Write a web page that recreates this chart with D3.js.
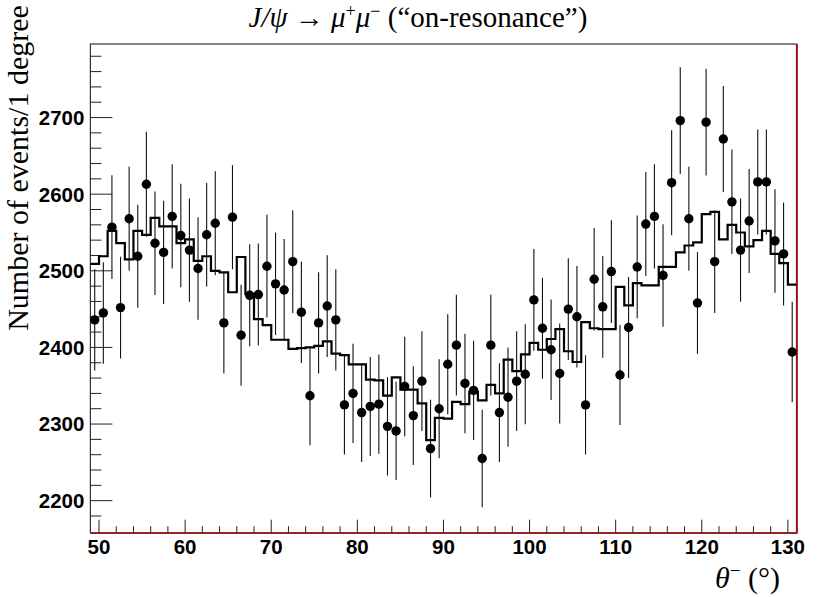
<!DOCTYPE html>
<html>
<head>
<meta charset="utf-8">
<script src="https://cdn.jsdelivr.net/npm/d3@7"></script>
<style>
  body { margin: 0; background: #fff; }
  svg { display: block; }
</style>
</head>
<body>
<div id="chart"></div>
<script>
// bin centres, 1 degree wide from 49 to 131
const bins = d3.range(49.5, 131, 1);

// measured counts (points)
const dataCounts = [
  2436, 2445, 2557, 2452, 2568, 2519, 2613, 2536, 2524, 2571,
  2546, 2527, 2503, 2547, 2562, 2432, 2570, 2416, 2468, 2469,
  2506, 2483, 2475, 2512, 2446, 2337, 2432, 2454, 2436, 2325,
  2340, 2315, 2323, 2326, 2297, 2291, 2349, 2311, 2356, 2268,
  2320, 2378, 2403, 2353, 2344, 2255, 2403, 2315, 2335, 2356,
  2365, 2462, 2425, 2397, 2366, 2450, 2440, 2325, 2489, 2453,
  2499, 2364, 2426, 2505, 2561, 2571, 2494, 2615, 2696, 2568,
  2458, 2694, 2512, 2672, 2590, 2527, 2565, 2616, 2616, 2539,
  2522, 2394
];

// expectation (histogram)
const mcCounts = [
  2509, 2519, 2552, 2536, 2515, 2552, 2547, 2569, 2558, 2558,
  2536, 2541, 2513, 2519, 2500, 2498, 2472, 2518, 2470, 2437,
  2429, 2410, 2410, 2398, 2399, 2400, 2402, 2408, 2392, 2390,
  2378, 2378, 2358, 2357, 2337, 2361, 2345, 2345, 2327, 2279,
  2308, 2307, 2329, 2326, 2342, 2331, 2351, 2340, 2384, 2369,
  2391, 2406, 2397, 2411, 2424, 2395, 2381, 2433, 2425, 2424,
  2424, 2479, 2455, 2484, 2481, 2481, 2505, 2505, 2524, 2533,
  2537, 2574, 2577, 2541, 2560, 2550, 2532, 2540, 2552, 2522,
  2510, 2482
];

// error bars in the picture are ~1.34 x sqrt(N) (weighted events)
const errScale = 1.34;

const xTicks = [50, 60, 70, 80, 90, 100, 110, 120, 130];
const yTicks = [2200, 2300, 2400, 2500, 2600, 2700];

const width = 830, height = 597;
const frame = { left: 90.4, right: 796.5, top: 44, bottom: 532.7 };

const svg = d3.select('#chart').append('svg')
  .attr('width', width)
  .attr('height', height);

const x = d3.scaleLinear().domain([49, 131]).range([frame.left, frame.right]);
const y = d3.scaleLinear().domain([2158.2, 2796]).range([frame.bottom, frame.top]);

// frame
svg.append('rect')
  .attr('x', frame.left).attr('y', frame.top)
  .attr('width', frame.right - frame.left)
  .attr('height', frame.bottom - frame.top)
  .attr('fill', 'none')
  .attr('stroke', '#333')
  .attr('stroke-width', 1.2);

const tickFont = 'Liberation Sans, Arial, sans-serif';

// y axis ticks (inward), minor every 20
const yMinor = d3.range(2180, 2790, 20);
const yAxis = svg.append('g').attr('transform', `translate(${frame.left},0)`);
yAxis.selectAll('line')
  .data(yMinor)
  .enter()
  .append('line')
  .attr('x1', 0)
  .attr('x2', (d) => (d % 100 === 0 ? 22 : 11))
  .attr('y1', (d) => y(d))
  .attr('y2', (d) => y(d))
  .attr('stroke', '#222')
  .attr('stroke-width', 1);
yAxis.selectAll('text')
  .data(yTicks)
  .enter()
  .append('text')
  .attr('x', -6)
  .attr('y', (d) => y(d))
  .attr('dy', '0.36em')
  .attr('text-anchor', 'end')
  .style('font-family', tickFont)
  .style('font-weight', 'bold')
  .style('font-size', '20.5px')
  .text((d) => d);

// x axis ticks, minor every 2
const xMinor = d3.range(50, 131, 2);
const xAxis = svg.append('g').attr('transform', `translate(0,${frame.bottom})`);
xAxis.selectAll('line')
  .data(xMinor)
  .enter()
  .append('line')
  .attr('x1', (d) => x(d))
  .attr('x2', (d) => x(d))
  .attr('y1', 0)
  .attr('y2', (d) => (d % 10 === 0 ? -13 : -6.5))
  .attr('stroke', '#222')
  .attr('stroke-width', 1);
xAxis.selectAll('text')
  .data(xTicks)
  .enter()
  .append('text')
  .attr('x', (d) => x(d))
  .attr('y', 21.5)
  .attr('text-anchor', 'middle')
  .style('font-family', tickFont)
  .style('font-weight', 'bold')
  .style('font-size', '20.5px')
  .text((d) => d);

// red lines on bottom and right edges
svg.append('line')
  .attr('x1', frame.left).attr('x2', frame.right + 0.5)
  .attr('y1', frame.bottom + 0.8).attr('y2', frame.bottom + 0.8)
  .attr('stroke', '#e00000').attr('stroke-width', 1.2);
svg.append('line')
  .attr('x1', frame.right + 0.8).attr('x2', frame.right + 0.8)
  .attr('y1', frame.top).attr('y2', frame.bottom + 0.8)
  .attr('stroke', '#e00000').attr('stroke-width', 1.2);

// histogram step line
const stepPts = [];
bins.forEach((b, i) => {
  stepPts.push([x(b - 0.5), y(mcCounts[i])]);
  stepPts.push([x(b + 0.5), y(mcCounts[i])]);
});
svg.append('path')
  .attr('d', d3.line()(stepPts))
  .attr('fill', 'none')
  .attr('stroke', '#000')
  .attr('stroke-width', 2.2);

// data points with errors
const pts = bins.map((b, i) => ({ x: b, v: dataCounts[i], e: errScale * Math.sqrt(dataCounts[i]) }));
svg.selectAll('line.err')
  .data(pts)
  .enter()
  .append('line')
  .attr('class', 'err')
  .attr('x1', (d) => x(d.x))
  .attr('x2', (d) => x(d.x))
  .attr('y1', (d) => y(d.v - d.e))
  .attr('y2', (d) => y(d.v + d.e))
  .attr('stroke', '#111')
  .attr('stroke-width', 1.1);
svg.selectAll('circle.pt')
  .data(pts)
  .enter()
  .append('circle')
  .attr('class', 'pt')
  .attr('cx', (d) => x(d.x))
  .attr('cy', (d) => y(d.v))
  .attr('r', 4.7)
  .attr('fill', '#000');

// titles
const serif = 'Liberation Serif, Times New Roman, serif';
const title = svg.append('text')
  .attr('x', 418)
  .attr('y', 27)
  .attr('text-anchor', 'middle')
  .style('font-family', serif)
  .style('font-size', '29px');
title.append('tspan').style('font-style', 'italic').text('J/ψ');
title.append('tspan').text(' → ');
title.append('tspan').style('font-style', 'italic').text('μ');
title.append('tspan').attr('dy', -10).style('font-size', '18px').text('+');
title.append('tspan').attr('dy', 10).style('font-style', 'italic').text('μ');
title.append('tspan').attr('dy', -10).style('font-size', '18px').text('−');
title.append('tspan').attr('dy', 10).text(' (“on-resonance”)');

svg.append('text')
  .attr('transform', 'translate(28,168) rotate(-90)')
  .attr('text-anchor', 'middle')
  .style('font-family', serif)
  .style('font-size', '30px')
  .text('Number of events/1 degree');

const xTitle = svg.append('text')
  .attr('x', 780)
  .attr('y', 588)
  .attr('text-anchor', 'end')
  .style('font-family', serif)
  .style('font-size', '30px');
xTitle.append('tspan').style('font-style', 'italic').text('θ');
xTitle.append('tspan').attr('dy', -11).style('font-size', '19px').text('−');
xTitle.append('tspan').attr('dy', 11).text(' (°)');
</script>
</body>
</html>
